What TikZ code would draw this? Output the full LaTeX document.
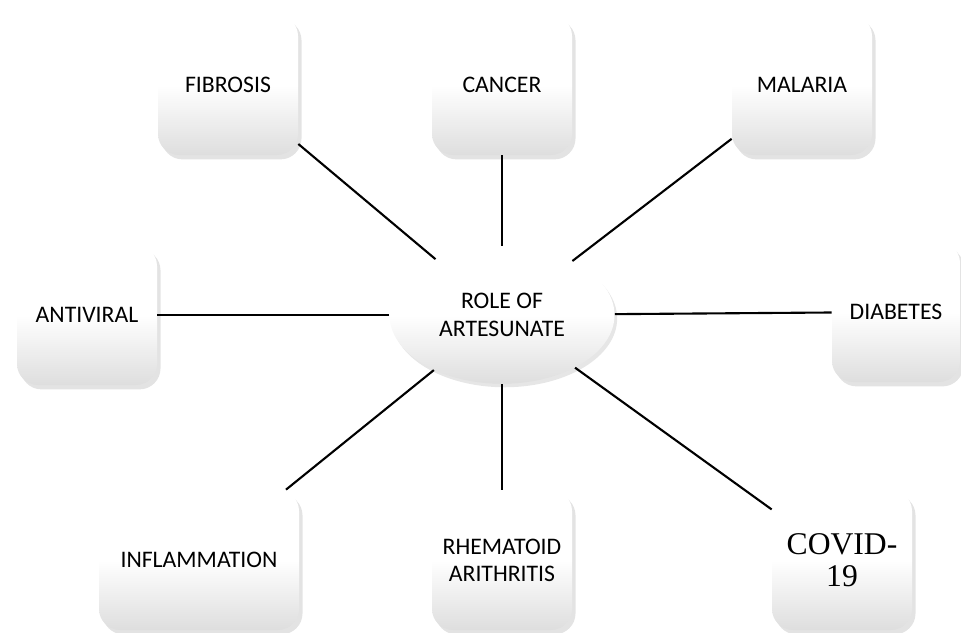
\documentclass[tikz,border=0pt]{standalone}
\usepackage{fontspec}
\setmainfont{Carlito}
\newfontfamily\covidfont{Liberation Serif}
\usepackage{tikz}
\usetikzlibrary{shapes.geometric,shadows,positioning}

% white in the upper half, light grey towards the bottom
\pgfdeclareverticalshading{boxshade}{100bp}{color(0bp)=(black!13);
  color(25bp)=(black!13); color(50bp)=(white); color(100bp)=(white)}

\tikzset{
  topicbox/.style={rectangle, rounded corners=0.42cm, minimum width=2.8cm,
    minimum height=2.8cm, align=center, shading=boxshade,
    drop shadow={opacity=0.22, shadow xshift=2pt, shadow yshift=-2.5pt},
    font=\fontsize{13.5}{15.5}\selectfont},
  rolebox/.style={ellipse, minimum width=4.5cm, minimum height=2.75cm,
    align=center, shading=boxshade,
    drop shadow={opacity=0.2, shadow xshift=1.5pt, shadow yshift=-2pt},
    font=\fontsize{13.5}{15.5}\selectfont},
  link/.style={draw, line width=1.2pt}
}

\begin{document}
\begin{tikzpicture}
    \useasboundingbox (0,0) rectangle (19.22,-12.64);
    \node[rolebox] (role) at (10.04,-6.30) {ROLE OF\\ARTESUNATE};
    \node[topicbox] (fibrosis) at (4.56,-1.70) {FIBROSIS};
    \node[topicbox] (cancer) at (10.04,-1.70) {CANCER};
    \node[topicbox] (malaria) at (16.04,-1.70) {MALARIA};
    \node[topicbox] (antiviral) at (1.74,-6.30) {ANTIVIRAL};
    \node[topicbox, minimum width=2.56cm] (diabetes) at (17.92,-6.24) {DIABETES};
    \node[topicbox, minimum width=4cm] (inflammation) at (3.98,-11.20) {INFLAMMATION};
    \node[topicbox] (rheumatoid) at (10.04,-11.20) {RHEMATOID\\ARITHRITIS};
    \node[topicbox, font=\covidfont\fontsize{18}{18}\selectfont] (covid)
      at (16.84,-11.20) {COVID-\\19};
    \path[link]
    (role) edge (fibrosis) edge (cancer) edge (malaria) edge (antiviral)
    (role) edge (diabetes) edge (inflammation) edge (rheumatoid) edge (covid);
  \end{tikzpicture}
\end{document}
